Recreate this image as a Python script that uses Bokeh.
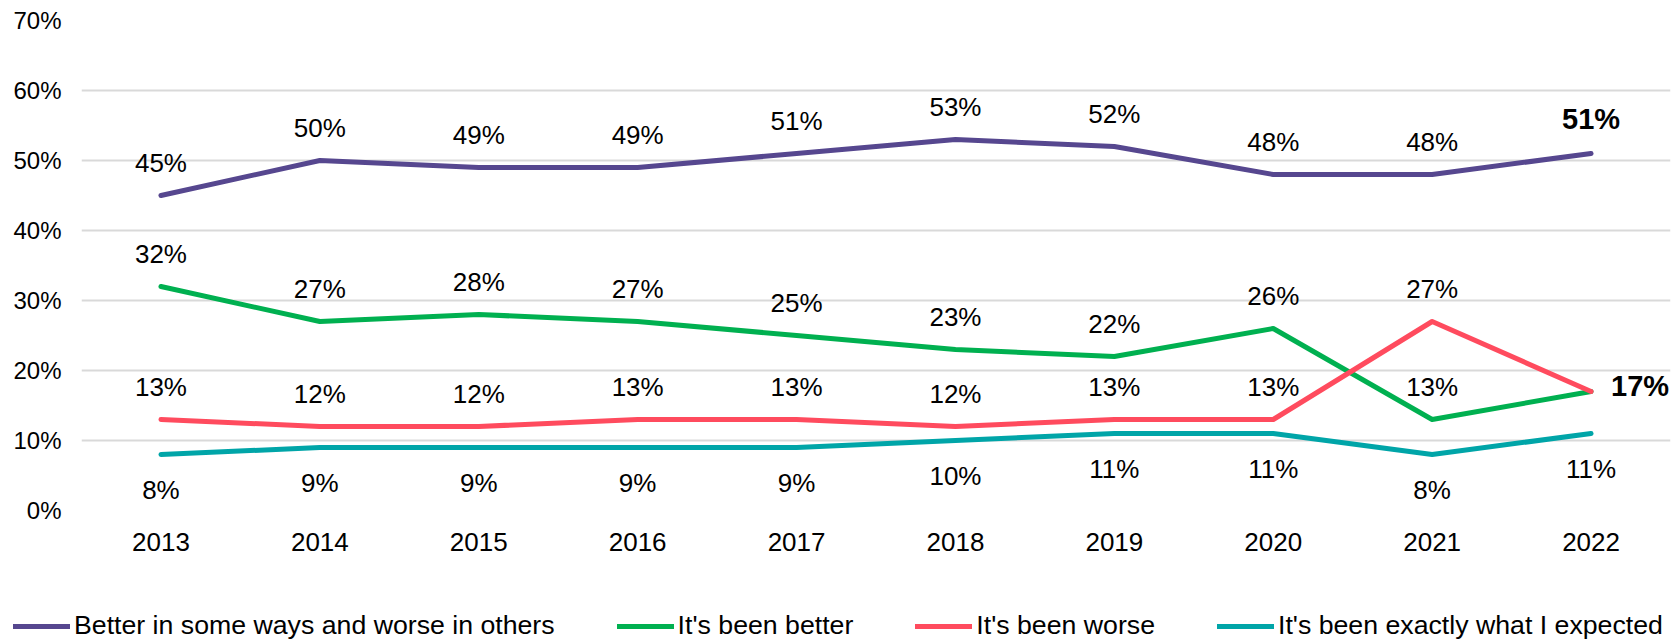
from bokeh.plotting import figure
from bokeh.models import (Range1d, FixedTicker, ColumnDataSource, LabelSet, Label,
                          Legend, LegendItem)
from bokeh.core.properties import value
from bokeh.embed import file_html
from bokeh.resources import INLINE

years = ["2013", "2014", "2015", "2016", "2017", "2018", "2019", "2020", "2021", "2022"]
better_in_some_ways = [45, 50, 49, 49, 51, 53, 52, 48, 48, 51]
been_better = [32, 27, 28, 27, 25, 23, 22, 26, 13, 17]
been_worse = [13, 12, 12, 13, 13, 12, 13, 13, 27, 17]
as_expected = [8, 9, 9, 9, 9, 10, 11, 11, 8, 11]
series_names = ["Better in some ways and worse in others", "It's been better",
                "It's been worse", "It's been exactly what I expected"]
y_ticks = [0, 10, 20, 30, 40, 50, 60, 70]

FONT = "Liberation Sans"
colors = ["#56478F", "#00B050", "#FF4B5E", "#00A5A8"]
W = 1675

xs = [i + 0.5 for i in range(len(years))]

p = figure(width=W, height=600, output_backend="svg", toolbar_location=None,
           x_range=Range1d(0, 10), y_range=Range1d(0, 70),
           min_border_left=81, min_border_right=5, min_border_top=20, min_border_bottom=90)
p.outline_line_color = None

p.xgrid.grid_line_color = None
p.ygrid.ticker = FixedTicker(ticks=y_ticks)
p.ygrid.grid_line_color = "#D9D9D9"
p.ygrid.grid_line_width = 2

p.xaxis.ticker = FixedTicker(ticks=xs)
p.xaxis.major_label_overrides = {x: y for x, y in zip(xs, years)}
p.yaxis.ticker = FixedTicker(ticks=y_ticks)
p.yaxis.major_label_overrides = {t: f"{t}%" for t in y_ticks}
for ax in (p.xaxis[0], p.yaxis[0]):
    ax.axis_line_color = None
    ax.major_tick_line_color = None
    ax.minor_tick_line_color = None
    ax.major_tick_out = 0
    ax.major_tick_in = 0
    ax.major_label_text_font = FONT
    ax.major_label_text_color = "black"
p.xaxis.major_label_text_font_size = "26px"
p.xaxis.major_label_standoff = 22
p.yaxis.major_label_text_font_size = "24px"
p.yaxis.major_label_standoff = 20

all_series = [better_in_some_ways, been_better, been_worse, as_expected]
for vals, col in zip(all_series, colors):
    p.line(xs, vals, line_color=col, line_width=5, line_cap="round", line_join="round")

# data labels
label_offsets = [33, 33, 33, -35]
label_counts = [9, 9, 9, 10]  # last point of first three series labelled separately
for vals, off, n in zip(all_series, label_offsets, label_counts):
    src = ColumnDataSource(dict(x=xs[:n], y=vals[:n], t=[f"{v}%" for v in vals[:n]]))
    ls = LabelSet(x="x", y="y", text="t", source=src, y_offset=off,
                  text_align="center", text_baseline="middle",
                  text_font=value(FONT), text_font_size=value("26px"), text_color="black")
    p.add_layout(ls)

p.add_layout(Label(x=xs[-1], y=better_in_some_ways[-1], text=f"{better_in_some_ways[-1]}%",
                   y_offset=35, text_align="center", text_baseline="middle",
                   text_font=FONT, text_font_size="29px", text_font_style="bold",
                   text_color="black"))
p.add_layout(Label(x=xs[-1], y=been_better[-1], text=f"{been_better[-1]}%",
                   x_offset=20, y_offset=6, text_align="left", text_baseline="middle",
                   text_font=FONT, text_font_size="29px", text_font_style="bold",
                   text_color="black"))

# legend strip below the chart, as a separate root so its frame spans the full width
lg = figure(width=W, height=41, output_backend="svg", toolbar_location=None,
            x_range=Range1d(0, 1), y_range=Range1d(0, 1),
            min_border_left=0, min_border_right=0, min_border_top=0, min_border_bottom=0)
lg.outline_line_color = None
lg.axis.visible = False
lg.grid.visible = False
# legend-only renderers: their data sit outside the visible range
leg_renderers = [lg.line(x=[5, 6], y=[5, 6], line_color=c, line_width=5, line_cap="round")
                 for c in colors]
legend = Legend(items=[LegendItem(label=n, renderers=[r])
                       for n, r in zip(series_names, leg_renderers)],
                orientation="horizontal", location=(13, 0),
                glyph_width=57, glyph_height=26, label_height=26, label_standoff=4,
                spacing=62, padding=0, margin=0, border_line_color=None,
                background_fill_alpha=0, label_text_font=FONT, label_text_font_size="26.7px",
                label_text_color="black")
lg.add_layout(legend)

open("out.html", "w").write(file_html([p, lg], INLINE))
